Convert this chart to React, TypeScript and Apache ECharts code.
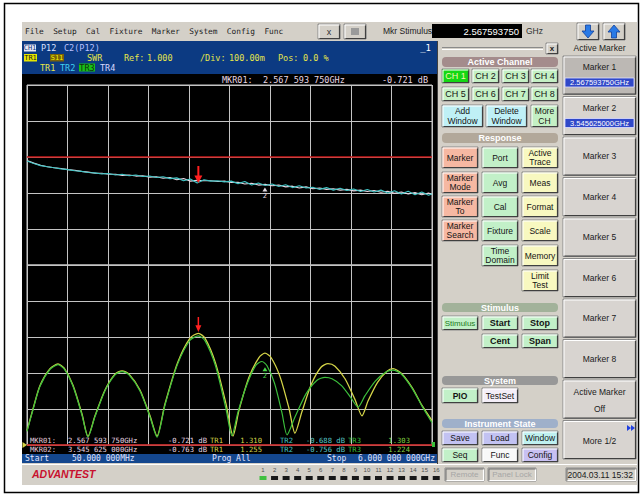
import React, { useEffect, useRef } from 'react';
import * as echarts from 'echarts';

// ---- sweep and trace data (frequency in GHz) ----
const sweepGHz = [
  0.05, 0.15, 0.25, 0.35, 0.45, 0.55, 0.65, 0.75, 0.85, 0.95,
  1.05, 1.15, 1.25, 1.35, 1.45, 1.55, 1.65, 1.75, 1.85, 1.95,
  2.05, 2.15, 2.25, 2.35, 2.45, 2.55, 2.65, 2.75, 2.85, 2.95,
  3.05, 3.15, 3.25, 3.35, 3.45, 3.55, 3.65, 3.75, 3.85, 3.95,
  4.05, 4.15, 4.25, 4.35, 4.45, 4.55, 4.65, 4.75, 4.85, 4.95,
  5.05, 5.15, 5.25, 5.35, 5.45, 5.55, 5.65, 5.75, 5.85, 5.95, 6.0,
];

// upper window, log-mag traces (dB)
const tr2dB = [
  -0.11, -0.18, -0.24, -0.27, -0.30, -0.33, -0.35, -0.38, -0.40, -0.43,
  -0.44, -0.47, -0.46, -0.50, -0.48, -0.52, -0.50, -0.54, -0.53, -0.57,
  -0.55, -0.60, -0.58, -0.66, -0.61, -0.72, -0.63, -0.67, -0.66, -0.69,
  -0.67, -0.74, -0.68, -0.78, -0.72, -0.79, -0.75, -0.82, -0.77, -0.85,
  -0.80, -0.86, -0.84, -0.90, -0.85, -0.92, -0.87, -0.93, -0.89, -0.96,
  -0.90, -0.97, -0.92, -1.00, -0.94, -1.03, -0.95, -1.05, -0.97, -1.06, -1.02,
];
const tr1dB = [
  -0.10, -0.17, -0.23, -0.27, -0.30, -0.32, -0.35, -0.37, -0.40, -0.42,
  -0.45, -0.45, -0.48, -0.48, -0.51, -0.50, -0.53, -0.52, -0.56, -0.55,
  -0.59, -0.57, -0.63, -0.60, -0.67, -0.65, -0.66, -0.66, -0.68, -0.67,
  -0.71, -0.70, -0.75, -0.73, -0.78, -0.76, -0.80, -0.78, -0.83, -0.81,
  -0.86, -0.83, -0.88, -0.86, -0.90, -0.88, -0.92, -0.90, -0.94, -0.92,
  -0.96, -0.93, -0.98, -0.95, -1.01, -0.97, -1.03, -0.99, -1.05, -1.00, -1.04,
];

// lower window, SWR traces [GHz, SWR]
const tr1Swr: [number, number][] = [
  [0.050, 1.040], [0.138, 1.100], [0.241, 1.165], [0.388, 1.212], [0.505, 1.225], [0.594, 1.214], [0.726, 1.166], [0.858, 1.086], [0.946, 1.024],
  [1.049, 1.081], [1.196, 1.153], [1.343, 1.197], [1.446, 1.206], [1.549, 1.197], [1.710, 1.153], [1.857, 1.081], [1.960, 1.025],
  [2.077, 1.114], [2.261, 1.228], [2.445, 1.297], [2.568, 1.310], [2.665, 1.297], [2.819, 1.228], [2.974, 1.114], [3.076, 1.025],
  [3.164, 1.096], [3.311, 1.188], [3.458, 1.243], [3.546, 1.255], [3.635, 1.243], [3.767, 1.190], [3.899, 1.102], [3.987, 1.033],
  [4.090, 1.093], [4.230, 1.170], [4.369, 1.216], [4.472, 1.226], [4.575, 1.219], [4.722, 1.184], [4.869, 1.126], [4.972, 1.081],
  [5.060, 1.122], [5.200, 1.174], [5.339, 1.205], [5.427, 1.212], [5.545, 1.200], [5.706, 1.160], [5.853, 1.110], [6.000, 1.068],
];
const tr3Swr: [number, number][] = [
  [0.050, 1.038], [0.138, 1.098], [0.241, 1.163], [0.388, 1.210], [0.505, 1.223], [0.594, 1.212], [0.726, 1.163], [0.858, 1.083], [0.946, 1.022],
  [1.049, 1.079], [1.196, 1.151], [1.343, 1.195], [1.446, 1.204], [1.549, 1.195], [1.710, 1.150], [1.857, 1.078], [1.960, 1.022],
  [2.077, 1.111], [2.261, 1.224], [2.445, 1.291], [2.568, 1.303], [2.665, 1.290], [2.819, 1.220], [2.974, 1.100], [3.060, 1.026],
  [3.150, 1.092], [3.289, 1.172], [3.414, 1.222], [3.502, 1.232], [3.576, 1.220], [3.686, 1.172], [3.796, 1.089], [3.870, 1.028],
  [3.987, 1.078], [4.149, 1.142], [4.311, 1.180], [4.428, 1.188], [4.531, 1.184], [4.671, 1.165], [4.810, 1.131], [4.913, 1.105],
  [5.016, 1.137], [5.170, 1.178], [5.324, 1.203], [5.427, 1.208], [5.545, 1.198], [5.706, 1.158], [5.853, 1.108], [6.000, 1.062],
];

// marker readouts
const markerFreqLabels = ['2.567 593 750GHz', '3.545 625 000GHz'];
const markerFreqGHz = [2.56759375, 3.545625];
const markerTopDb = [-0.721, -0.763];
const markerTr1Swr = [1.310, 1.255];
const markerTr2Db = [-0.688, -0.756];
const markerTr3Swr = [1.303, 1.224];

const startLabel = '50.000 000MHz';
const stopLabel = '6.000 000 000GHz';

const MONO = '"DejaVu Sans Mono", "Liberation Mono", monospace';
const SANS = '"Liberation Sans", "DejaVu Sans", Arial, sans-serif';

const RED = '#c81818';
const C_WHITE = '#e8d8e4';
const C_CYAN = '#40c4c4';
const C_YEL = '#d4d448';
const C_GRN = '#3cc03c';

function buildGraphic() {
  const els: any[] = [];
  const rect = (x: number, y: number, w: number, h: number, fill: string, o: any = {}) =>
    els.push({
      type: 'rect', z: o.z ?? -10,
      shape: { x, y, width: w, height: h, r: o.r ?? 0 },
      style: { fill, stroke: o.stroke ?? null, lineWidth: o.lw ?? 1 },
    });
  const text = (x: number, y: number, t: string, fill: string, o: any = {}) =>
    els.push({
      type: 'text', x, y, z: o.z ?? 10,
      style: {
        text: t, fill, fontSize: o.size ?? 8.5, fontFamily: o.ff ?? MONO,
        fontWeight: o.fw ?? 'normal', fontStyle: o.fs ?? 'normal',
        align: o.align ?? 'left', verticalAlign: 'middle',
        textDecoration: o.ul ? 'underline' : 'none',
      },
    });
  const line = (pts: number[][], stroke: string, lw = 1, z = -4) =>
    els.push({ type: 'polyline', z, shape: { points: pts }, style: { stroke, lineWidth: lw, fill: null } });
  const bevel = (x: number, y: number, w: number, h: number, fill: string, sunken = false) => {
    rect(x, y, w, h, fill, { z: -6, stroke: '#8a8a8a' });
    const lt = sunken ? '#707070' : '#ffffff';
    const dk = sunken ? '#ffffff' : '#404040';
    line([[x + 1, y + h - 1], [x + 1, y + 1], [x + w - 1, y + 1]], lt, 1);
    line([[x + 1.5, y + h - 0.5], [x + w - 0.5, y + h - 0.5], [x + w - 0.5, y + 1.5]], dk, 1.2);
  };
  const button = (x: number, y: number, w: number, h: number, fill: string, lines: string[], o: any = {}) => {
    bevel(x, y, w, h, fill);
    const lh = o.lh ?? 10;
    lines.forEach((t, i) =>
      text(x + w / 2, y + h / 2 + (i - (lines.length - 1) / 2) * lh, t, o.color ?? '#141414', {
        ff: SANS, size: o.size ?? 9, fw: o.bold ? 'bold' : 'normal', align: 'center', z: -3,
      }));
  };
  const header = (x: number, y: number, w: number, h: number, fill: string, t: string) => {
    rect(x, y, w, h, fill, { r: 4, z: -6 });
    text(x + w / 2, y + h / 2, t, '#ffffff', { ff: SANS, size: 9, fw: 'bold', align: 'center', z: -3 });
  };

  // outer frame and instrument screen
  rect(4.5, 3.5, 634, 489, 'none', { stroke: '#000000', lw: 1.5, z: -20 });
  rect(22, 22, 615, 463, '#d4d0c8', { z: -15 });

  // menu bar
  text(25, 31, 'File  Setup  Cal  Fixture  Marker  System  Config  Func', '#1c1c1c', { size: 7.8 });
  bevel(318, 24, 22, 15, '#d4d0c8');
  text(329, 31.5, 'x', '#303030', { ff: SANS, size: 9, align: 'center', z: -3 });
  bevel(344, 24, 22, 15, '#d4d0c8');
  rect(351, 28, 8, 7, '#9a9a9a', { z: -3 });
  text(383, 31, 'Mkr Stimulus', '#1c1c1c', { ff: SANS, size: 8.5 });
  rect(432, 24, 90, 14, '#000000', { z: -6 });
  text(519, 31, '2.567593750', '#ffffff', { ff: SANS, size: 9.5, align: 'right' });
  text(526, 31, 'GHz', '#303030', { ff: SANS, size: 8.5 });
  bevel(577, 23, 22, 17, '#d4d0c8');
  bevel(603, 23, 22, 17, '#d4d0c8');
  els.push({ type: 'polygon', z: -2, shape: { points: [[585.5, 25], [590.5, 25], [590.5, 31], [594, 31], [588, 38], [582, 31], [585.5, 31]] }, style: { fill: '#2a7ae6', stroke: '#12409a', lineWidth: 0.8 } });
  els.push({ type: 'polygon', z: -2, shape: { points: [[611.5, 38], [616.5, 38], [616.5, 32], [620, 32], [614, 25], [608, 32], [611.5, 32]] }, style: { fill: '#2a7ae6', stroke: '#12409a', lineWidth: 0.8 } });

  // channel header
  rect(22, 41, 415, 33, '#0c3a82', { z: -12 });
  rect(24, 44.5, 12, 7, '#e8e8f4', { z: -3 });
  text(30, 48, 'CH1', '#0c3a82', { size: 7, align: 'center' });
  text(41, 48, 'P12', '#d8e0ff', {});
  text(64, 48, 'C2(P12)', '#b8c0ff', {});
  text(431, 48, '_1', '#ffffff', { align: 'right', size: 9 });
  rect(24, 54, 13, 7.5, '#e6e600', { z: -3 });
  text(30.5, 58, 'TR1', '#202020', { size: 7, align: 'center' });
  rect(50, 54, 14, 7.5, '#7a6208', { z: -3 });
  text(57, 58, 'S11', '#f0f000', { size: 7, align: 'center' });
  text(87, 58, 'SWR', '#e6e64a', {});
  text(124, 58, 'Ref:', '#e6e64a', {});
  text(147, 58, '1.000', '#e6e64a', {});
  text(200, 58, '/Div:', '#e6e64a', {});
  text(229, 58, '100.00m', '#e6e64a', {});
  text(278, 58, 'Pos:', '#e6e64a', {});
  text(303, 58, '0.0 %', '#e6e64a', {});
  text(40, 67.5, 'TR1', '#e6e64a', {});
  text(60, 67.5, 'TR2', '#40d0f0', { ul: true });
  rect(79, 63.5, 16, 8, '#18c018', { z: -3 });
  text(87, 67.5, 'TR3', '#103010', { align: 'center' });
  text(100, 67.5, 'TR4', '#d8d8ff', { ul: true });

  // measurement area
  rect(22, 74, 415, 380, '#000000', { z: -12 });
  text(222, 80, 'MKR01:  ' + markerFreqLabels[0], C_WHITE, {});
  text(428, 80, markerTopDb[0].toFixed(3) + ' dB', C_WHITE, { align: 'right' });

  // marker readout lines at the bottom of the trace window
  [0, 1].forEach((i) => {
    const y = 440.5 + i * 8.5;
    const s = { size: 7.2 };
    text(30, y, 'MKR0' + (i + 1) + ':', '#e0c8d8', s);
    text(68, y, markerFreqLabels[i], C_WHITE, s);
    text(207, y, markerTopDb[i].toFixed(3) + ' dB', C_WHITE, { ...s, align: 'right' });
    text(210, y, 'TR1', C_YEL, s);
    text(262, y, markerTr1Swr[i].toFixed(3), C_YEL, { ...s, align: 'right' });
    text(280, y, 'TR2', C_CYAN, s);
    text(345, y, markerTr2Db[i].toFixed(3) + ' dB', '#58c8c8', { ...s, align: 'right' });
    text(348, y, 'TR3', C_GRN, s);
    text(410, y, markerTr3Swr[i].toFixed(3), '#80d040', { ...s, align: 'right' });
  });
  els.push({ type: 'polygon', z: 8, shape: { points: [[22.5, 442], [27, 445], [22.5, 448]] }, style: { fill: C_YEL } });
  els.push({ type: 'rect', z: 8, shape: { x: 432, y: 442, width: 3, height: 5 }, style: { fill: C_GRN } });

  // sweep strip
  rect(22, 454, 415, 9, '#14478e', { z: -11 });
  text(25, 458.5, 'Start', '#e0e4ff', { size: 8 });
  text(72, 458.5, startLabel, '#e0e4ff', { size: 8 });
  text(212, 458.5, 'Prog All', '#e0e4ff', { size: 8 });
  text(327, 458.5, 'Stop', '#e0e4ff', { size: 8 });
  text(435, 458.5, stopLabel, '#e0e4ff', { size: 8, align: 'right' });

  // status bar
  line([[22, 464.5], [637, 464.5]], '#ffffff', 1, -5);
  text(32, 474, 'ADVANTEST', '#c8102e', { ff: SANS, size: 10.5, fw: 'bold', fs: 'italic' });
  for (let i = 0; i < 16; i++) {
    const cx = 263 + i * 11.55;
    text(cx, 469.5, String(i + 1), '#505050', { ff: SANS, size: 6, align: 'center' });
    rect(cx - 3.5, 476, 7, 4, i === 0 ? '#40c040' : '#181818', { z: -3 });
  }
  bevel(445, 468, 39, 13, '#d4d0c8', true);
  text(464.5, 474.5, 'Remote', '#a6a6a6', { ff: SANS, size: 8, align: 'center', z: -2 });
  bevel(488, 468, 48, 13, '#d4d0c8', true);
  text(512, 474.5, 'Panel Lock', '#a6a6a6', { ff: SANS, size: 8, align: 'center', z: -2 });
  bevel(566, 468, 70, 13, '#d4d0c8', true);
  text(633, 474.5, '2004.03.11 15:32', '#202020', { ff: SANS, size: 8.5, align: 'right', z: -2 });

  // soft-key panel, left column
  line([[437.5, 41], [437.5, 464]], '#404040', 1, -5);
  line([[442, 47.5], [543, 47.5]], '#8a8a8a', 1, -5);
  line([[442, 49.5], [543, 49.5]], '#ffffff', 1, -5);
  bevel(546, 43, 12, 11, '#d4d0c8');
  text(552, 48.5, 'x', '#202020', { ff: SANS, size: 8, fw: 'bold', align: 'center', z: -2 });

  header(442, 57, 116, 10, '#a48c8c', 'Active Channel');
  const chX = [442, 472, 502, 531];
  ['CH 1', 'CH 2', 'CH 3', 'CH 4'].forEach((t, i) =>
    button(chX[i], 69, 27, 14, i === 0 ? '#14d814' : '#c4f0c4', [t], i === 0 ? { color: '#f4f4b0' } : {}));
  ['CH 5', 'CH 6', 'CH 7', 'CH 8'].forEach((t, i) => button(chX[i], 87, 27, 14, '#c4f0c4', [t]));
  button(442, 105, 41, 22, '#bff0f6', ['Add', 'Window'], { size: 8.5 });
  button(486, 105, 41, 22, '#bff0f6', ['Delete', 'Window'], { size: 8.5 });
  button(531, 105, 27, 22, '#c4f0c4', ['More', 'CH'], { size: 8.5 });

  header(442, 133, 116, 10, '#b2a89a', 'Response');
  const SAL = '#f6b8a2', LG = '#c2f0c8', LY = '#f8f8c0';
  const rowY = [147, 172, 196, 220, 245, 270];
  const col = [442, 482, 522];
  const resp: [number, number, string, string[]][] = [
    [0, 0, SAL, ['Marker']], [0, 1, LG, ['Port']], [0, 2, LY, ['Active', 'Trace']],
    [1, 0, SAL, ['Marker', 'Mode']], [1, 1, LG, ['Avg']], [1, 2, LY, ['Meas']],
    [2, 0, SAL, ['Marker', 'To']], [2, 1, LG, ['Cal']], [2, 2, LY, ['Format']],
    [3, 0, SAL, ['Marker', 'Search']], [3, 1, LG, ['Fixture']], [3, 2, LY, ['Scale']],
    [4, 1, LG, ['Time', 'Domain']], [4, 2, LY, ['Memory']],
    [5, 2, LY, ['Limit', 'Test']],
  ];
  resp.forEach(([r, c, f, l]) => button(col[c], rowY[r], 36, 21, f, l, { size: 8.5, lh: 9 }));

  header(442, 303, 116, 9, '#a2b29a', 'Stimulus');
  button(442, 316, 36, 14, LG, ['Stimulus'], { size: 8, color: '#1a7a1a' });
  button(482, 316, 36, 14, LG, ['Start'], { bold: true });
  button(522, 316, 36, 14, LG, ['Stop'], { bold: true });
  button(482, 334, 36, 14, LG, ['Cent'], { bold: true });
  button(522, 334, 36, 14, LG, ['Span'], { bold: true });

  header(442, 376, 116, 9, '#989898', 'System');
  button(442, 388, 36, 15, LG, ['PIO'], { bold: true, size: 8.5 });
  button(482, 388, 36, 15, '#f4eef8', ['TestSet'], { size: 8.5 });

  header(442, 419, 116, 9, '#9fb0ca', 'Instrument State');
  button(442, 431, 36, 14, '#c2c2f2', ['Save'], { size: 8.5 });
  button(482, 431, 36, 14, '#c2c2f2', ['Load'], { size: 8.5 });
  button(522, 431, 36, 14, '#bff0f0', ['Window'], { size: 8.5 });
  button(442, 448, 36, 14, LG, ['Seq'], { size: 8.5 });
  button(482, 448, 36, 14, '#f8f8f8', ['Func'], { size: 8.5 });
  button(522, 448, 36, 14, '#c8c0f2', ['Config'], { size: 8.5 });

  // soft-key panel, marker column
  text(599.5, 47.5, 'Active Marker', '#202020', { ff: SANS, size: 8.5, align: 'center', ul: true, z: -2 });
  for (let i = 0; i < 10; i++) {
    const y = 56 + i * 40.5;
    bevel(563, y, 73, 38.5, i === 0 ? '#bcb8b4' : '#d8d4d0');
    if (i < 8) {
      const ty = i < 2 ? y + 11 : y + 19;
      text(599.5, ty, 'Marker ' + (i + 1), '#202020', { ff: SANS, size: 8.5, align: 'center', z: -2 });
    }
  }
  [0, 1].forEach((i) => {
    const y = 56 + i * 40.5 + 22;
    rect(565, y, 69, 9, '#3048c8', { z: -3, stroke: '#e0e0ff', lw: 0.8 });
    text(599.5, y + 4.7, markerFreqLabels[i].replace(/ /g, ''), '#ffffff', { ff: SANS, size: 7.5, align: 'center', z: -2 });
  });
  text(599.5, 392, 'Active Marker', '#202020', { ff: SANS, size: 8.5, align: 'center', z: -2 });
  text(599.5, 409, 'Off', '#202020', { ff: SANS, size: 8.5, align: 'center', z: -2 });
  text(599.5, 441, 'More 1/2', '#202020', { ff: SANS, size: 8.5, align: 'center', z: -2 });
  els.push({ type: 'polygon', z: -2, shape: { points: [[627, 425], [631, 428], [627, 431]] }, style: { fill: '#2040e0' } });
  els.push({ type: 'polygon', z: -2, shape: { points: [[631, 425], [635, 428], [631, 431]] }, style: { fill: '#2040e0' } });
  return els;
}

const arrowPath = 'path://M3,0 L5,0 L5,9 L8,9 L4,16 L0,9 L3,9 Z';

function buildOption() {
  const divAxis = (gridIndex: number) => ({
    gridIndex, type: 'value', min: 0, max: 10, interval: 1,
    axisLine: { show: false }, axisTick: { show: false }, axisLabel: { show: false },
    splitLine: { show: true, lineStyle: { color: '#c4c4c4', width: 1 } },
  });
  const freqAxis = (gridIndex: number) => ({ gridIndex, type: 'value', min: 0.05, max: 6, show: false });
  const yBase = { type: 'value', axisLine: { show: false }, axisTick: { show: false }, axisLabel: { show: false },
    splitLine: { show: true, lineStyle: { color: '#c4c4c4', width: 1 } } };
  const refLine = (y: number) => ({
    silent: true, symbol: 'none', label: { show: false },
    lineStyle: { color: RED, width: 1.5, type: 'solid' }, data: [{ yAxis: y }],
  });
  const smallMarker = (coord: number[], color: string) => ({
    coord, symbol: 'triangle', symbolSize: [5, 4], symbolOffset: [0, 5],
    itemStyle: { color },
    label: { show: true, formatter: '2', position: 'bottom', distance: 1, color, fontSize: 7, fontFamily: MONO },
  });
  return {
    animation: false,
    backgroundColor: '#ffffff',
    grid: [
      { left: 27, top: 85, width: 405, height: 180, show: true, borderColor: '#c8c8c8', borderWidth: 1, backgroundColor: 'transparent' },
      { left: 27, top: 265, width: 405, height: 180, show: true, borderColor: '#c8c8c8', borderWidth: 1, backgroundColor: 'transparent' },
    ],
    xAxis: [freqAxis(0), divAxis(0), freqAxis(1), divAxis(1)],
    yAxis: [
      { ...yBase, gridIndex: 0, min: -3, max: 2, interval: 1 },
      { ...yBase, gridIndex: 1, min: 1, max: 1.5, interval: 0.1 },
    ],
    series: [
      {
        type: 'line', xAxisIndex: 0, yAxisIndex: 0, z: 3, symbol: 'none', smooth: false,
        data: sweepGHz.map((f, i) => [f, tr1dB[i]]),
        lineStyle: { color: C_WHITE, width: 1.1 },
        markLine: refLine(0),
        markPoint: { data: [smallMarker([markerFreqGHz[1], markerTopDb[1]], '#e0d8e0')] },
      },
      {
        type: 'line', xAxisIndex: 0, yAxisIndex: 0, z: 4, symbol: 'none', smooth: false,
        data: sweepGHz.map((f, i) => [f, tr2dB[i]]),
        lineStyle: { color: C_CYAN, width: 1.1 },
        markPoint: {
          data: [{
            coord: [markerFreqGHz[0], markerTopDb[0]], symbol: arrowPath, symbolSize: [8, 17], symbolOffset: [0, -8.5],
            itemStyle: { color: '#ff2020' }, label: { show: false },
          }],
        },
      },
      {
        type: 'line', xAxisIndex: 2, yAxisIndex: 1, z: 3, symbol: 'none', smooth: 0.25,
        data: tr1Swr,
        lineStyle: { color: C_YEL, width: 1.3 },
        markLine: refLine(1),
        markPoint: {
          data: [{
            coord: [markerFreqGHz[0], markerTr1Swr[0]], symbol: arrowPath, symbolSize: [6, 15], symbolOffset: [0, -9],
            itemStyle: { color: '#ff2020' }, label: { show: false },
          }],
        },
      },
      {
        type: 'line', xAxisIndex: 2, yAxisIndex: 1, z: 4, symbol: 'none', smooth: 0.25,
        data: tr3Swr,
        lineStyle: { color: C_GRN, width: 1.2 },
        markPoint: { data: [smallMarker([markerFreqGHz[1], markerTr3Swr[1]], '#48d848')] },
      },
    ],
    graphic: { elements: buildGraphic() },
  };
}

export default function App() {
  const ref = useRef<HTMLDivElement>(null);
  useEffect(() => {
    document.body.style.margin = '0';
    if (!ref.current) return;
    const chart = echarts.init(ref.current, undefined, { renderer: 'svg' });
    chart.setOption(buildOption() as any);
    return () => chart.dispose();
  }, []);
  return <div ref={ref} style={{ width: 643, height: 495 }} />;
}
